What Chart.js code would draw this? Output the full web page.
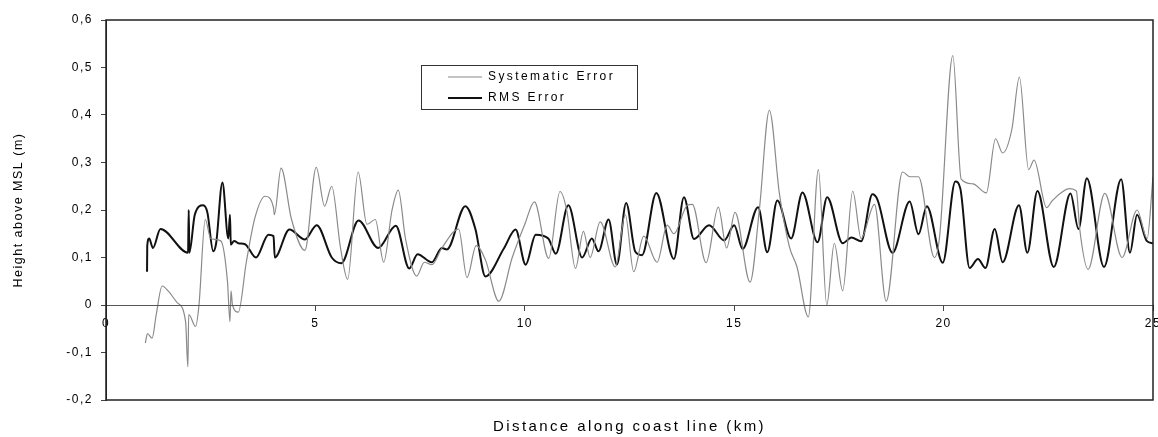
<!DOCTYPE html>
<html>
<head>
<meta charset="utf-8">
<title>Systematic and RMS error along coast line</title>
<script src="https://cdn.jsdelivr.net/npm/chart.js@4.4.1/dist/chart.umd.min.js"></script>
<style>
  html, body { margin: 0; padding: 0; background: #fff; }
  #wrap { width: 1158px; height: 437px; }
</style>
</head>
<body>
<div id="wrap"><canvas id="chart" width="1158" height="437"></canvas></div>
<script>
// ---- data ----
const seriesNames = ['Systematic Error', 'RMS Error'];

const sysKm = [0.94, 0.99, 1.1, 1.2, 1.34, 1.5, 1.7, 1.9, 1.955, 1.975, 2.14, 2.22, 2.37, 2.5, 2.74, 2.9, 2.96, 2.985, 3.02, 3.16,
  3.35, 3.56, 3.8, 4.0, 4.02, 4.18, 4.43, 4.75, 5.02, 5.22, 5.39, 5.6, 5.77, 6.02, 6.23, 6.43, 6.63, 6.83, 6.98, 7.15,
  7.42, 7.6, 7.78, 8.02, 8.42, 8.62, 8.84, 9.06, 9.38, 9.7, 10.0, 10.23, 10.57, 10.84, 11.0, 11.21, 11.4, 11.56, 11.8, 12.16,
  12.4, 12.6, 12.84, 13.16, 13.4, 13.56, 13.88, 14.0, 14.33, 14.62, 14.82, 15.02, 15.38, 15.6, 15.84, 16.08, 16.32, 16.5, 16.77, 17.01,
  17.21, 17.39, 17.59, 17.83, 18.03, 18.35, 18.63, 19.02, 19.2, 19.4, 19.78, 19.9, 20.22, 20.42, 20.7, 21.02, 21.24, 21.41, 21.63, 21.81,
  22.03, 22.16, 22.46, 22.6, 23.01, 23.17, 23.25, 23.45, 23.85, 24.26, 24.62, 24.86, 25.0];
const sysVal = [-0.08, -0.06, -0.07, -0.02, 0.04, 0.028, 0.005, -0.035, -0.13, -0.02, -0.045, 0.0, 0.18, 0.14, 0.135, 0.05, -0.035, 0.03, 0.0, -0.015,
  0.09, 0.185, 0.229, 0.205, 0.19, 0.288, 0.18, 0.115, 0.29, 0.208, 0.25, 0.12, 0.054, 0.28, 0.17, 0.18, 0.09, 0.2, 0.242, 0.14,
  0.061, 0.09, 0.085, 0.12, 0.16, 0.058, 0.125, 0.095, 0.008, 0.1, 0.17, 0.217, 0.098, 0.239, 0.2, 0.077, 0.155, 0.1, 0.175, 0.08,
  0.19, 0.07, 0.145, 0.09, 0.168, 0.15, 0.21, 0.212, 0.089, 0.206, 0.12, 0.195, 0.048, 0.2, 0.41, 0.234, 0.122, 0.08, -0.025, 0.285,
  0.0, 0.13, 0.03, 0.24, 0.14, 0.212, 0.008, 0.28, 0.27, 0.27, 0.1, 0.14, 0.525, 0.265, 0.255, 0.236, 0.35, 0.32, 0.37, 0.48,
  0.285, 0.305, 0.205, 0.22, 0.245, 0.24, 0.16, 0.075, 0.235, 0.1, 0.2, 0.14, 0.27];

const rmsKm = [0.98, 0.985, 1.03, 1.12, 1.3, 1.96, 1.975, 1.99, 2.12, 2.32, 2.42, 2.56, 2.63, 2.78, 2.92, 2.96, 2.98, 3.06, 3.16, 3.32,
  3.58, 3.88, 4.0, 4.03, 4.38, 4.75, 5.03, 5.39, 5.62, 6.03, 6.5, 6.92, 7.24, 7.44, 7.78, 8.02, 8.14, 8.58, 8.82, 9.06,
  9.5, 9.78, 10.02, 10.26, 10.56, 10.74, 11.04, 11.37, 11.6, 11.76, 12.0, 12.2, 12.42, 12.64, 12.8, 13.14, 13.56, 13.8, 14.04, 14.4,
  14.76, 15.0, 15.2, 15.57, 15.79, 16.03, 16.36, 16.63, 16.99, 17.22, 17.59, 17.8, 18.03, 18.3, 18.42, 18.78, 19.19, 19.4, 19.6, 19.98,
  20.28, 20.4, 20.62, 20.82, 21.0, 21.22, 21.41, 21.8, 22.0, 22.24, 22.63, 23.03, 23.22, 23.42, 23.83, 24.24, 24.45, 24.62, 24.85, 25.0];
const rmsVal = [0.07, 0.125, 0.14, 0.12, 0.16, 0.11, 0.2, 0.11, 0.19, 0.21, 0.195, 0.113, 0.13, 0.258, 0.14, 0.19, 0.127, 0.135, 0.13, 0.128,
  0.1, 0.148, 0.145, 0.1, 0.159, 0.138, 0.168, 0.1, 0.088, 0.178, 0.12, 0.167, 0.077, 0.107, 0.09, 0.12, 0.117, 0.208, 0.16, 0.06,
  0.119, 0.159, 0.085, 0.148, 0.14, 0.108, 0.21, 0.1, 0.14, 0.113, 0.18, 0.085, 0.215, 0.112, 0.105, 0.236, 0.097, 0.227, 0.139, 0.168,
  0.136, 0.168, 0.118, 0.206, 0.111, 0.22, 0.14, 0.237, 0.132, 0.227, 0.13, 0.142, 0.134, 0.233, 0.222, 0.11, 0.218, 0.149, 0.208, 0.089,
  0.26, 0.245, 0.078, 0.097, 0.078, 0.16, 0.09, 0.21, 0.11, 0.24, 0.08, 0.235, 0.16, 0.267, 0.08, 0.265, 0.11, 0.19, 0.135, 0.13];

const xRange = [0, 25];
const yRange = [-0.2, 0.6];

// ---- helpers ----
const FONT = 'Arial, "Liberation Sans", sans-serif';
const toPoints = (xs, ys) => xs.map((x, i) => ({ x, y: ys[i] }));
const commaNum = v => Math.abs(v) < 1e-9 ? '0' : v.toFixed(1).replace('.', ',');

// legend frame, as in the scanned figure
const LEGEND_BOX = { x: 421, y: 65, w: 216, h: 44 };

// wide letter spacing for legend + bottom title, a bit less for the axes (their layers have z:1,
// so they get drawn after the datasets)
const spacingPlugin = {
  id: 'spacing',
  beforeDraw(chart) { chart.ctx.letterSpacing = '2.4px'; },
  afterDatasetsDraw(chart) { chart.ctx.letterSpacing = '1.5px'; },
  afterDraw(chart) { chart.ctx.letterSpacing = '0px'; }
};

const legendPlacePlugin = {
  id: 'legendPlace',
  afterLayout(chart) {
    const lg = chart.legend;
    if (!lg) return;
    lg.left = LEGEND_BOX.x + 18;
    lg.top = LEGEND_BOX.y - 3;
    lg.width = LEGEND_BOX.w;
    lg.height = 200;
    lg.right = lg.left + lg.width;
    lg.bottom = lg.top + lg.height;
  }
};

const framePlugin = {
  id: 'frame',
  afterDraw(chart) {
    const { ctx, chartArea: a } = chart;
    ctx.save();
    ctx.strokeStyle = '#222';
    ctx.lineWidth = 1.5;
    ctx.strokeRect(a.left, a.top, a.right - a.left, a.bottom - a.top);
    ctx.lineWidth = 1;
    ctx.strokeStyle = '#333';
    ctx.strokeRect(LEGEND_BOX.x + 0.5, LEGEND_BOX.y + 0.5, LEGEND_BOX.w, LEGEND_BOX.h);
    ctx.restore();
  }
};

new Chart(document.getElementById('chart'), {
  type: 'line',
  data: {
    datasets: [
      {
        label: seriesNames[0],
        data: toPoints(sysKm, sysVal),
        borderColor: '#8a8a8a',
        borderWidth: 1.2,
        pointRadius: 0,
        cubicInterpolationMode: 'monotone',
        fill: false
      },
      {
        label: seriesNames[1],
        data: toPoints(rmsKm, rmsVal),
        borderColor: '#111',
        borderWidth: 2,
        pointRadius: 0,
        cubicInterpolationMode: 'monotone',
        fill: false
      }
    ]
  },
  options: {
    responsive: false,
    animation: false,
    events: [],
    layout: { padding: { top: 20, right: 5, left: 0, bottom: 0 } },
    plugins: {
      tooltip: { enabled: false },
      legend: {
        position: 'chartArea',
        align: 'start',
        labels: {
          usePointStyle: true,
          pointStyle: 'line',
          pointStyleWidth: 34,
          padding: 9,
          color: '#000',
          font: { family: FONT, size: 12 }
        }
      },
      title: {
        display: true,
        fullSize: false,
        position: 'bottom',
        text: 'Distance along coast line (km)',
        color: '#000',
        font: { family: FONT, size: 15, weight: 'normal' },
        padding: { top: 18, bottom: 1 }
      }
    },
    scales: {
      x: {
        type: 'linear',
        position: { y: 0 },
        min: xRange[0],
        max: xRange[1],
        afterFit(s) { s.paddingLeft = 0; s.paddingRight = 0; },
        ticks: {
          z: 1,
          stepSize: 5,
          color: '#000',
          padding: 6,
          maxRotation: 0,
          font: { family: FONT, size: 12 },
          callback: v => String(v)
        },
        grid: { z: 1, display: true, drawOnChartArea: false, drawTicks: true, tickLength: 5, color: '#444' },
        border: { z: 1, display: true, color: '#555', width: 1 }
      },
      y: {
        type: 'linear',
        position: 'left',
        min: yRange[0],
        max: yRange[1],
        afterFit(s) { s.width = 106; },
        ticks: {
          z: 1,
          stepSize: 0.1,
          color: '#000',
          padding: 8,
          font: { family: FONT, size: 12 },
          callback: v => commaNum(v)
        },
        grid: { z: 1, display: true, drawOnChartArea: false, drawTicks: true, tickLength: 5, color: '#444' },
        border: { z: 1, display: true, color: '#222' },
        title: {
          display: true,
          text: 'Height above MSL (m)',
          color: '#000',
          font: { family: FONT, size: 12.5 },
          padding: { top: 11, bottom: 0 }
        }
      }
    }
  },
  plugins: [spacingPlugin, legendPlacePlugin, framePlugin]
});
</script>
</body>
</html>
